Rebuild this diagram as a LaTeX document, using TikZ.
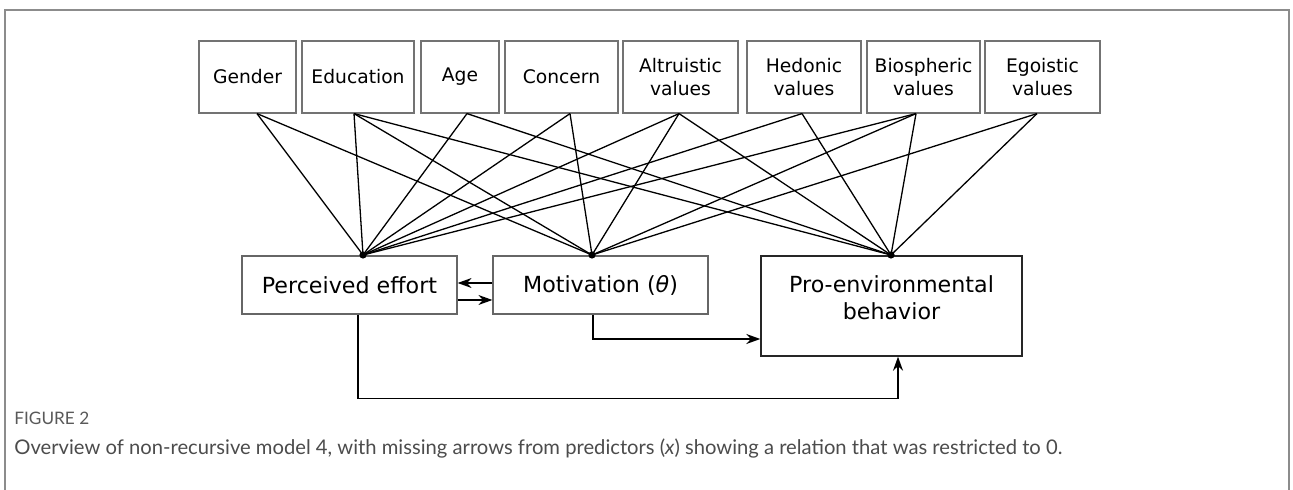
\documentclass[tikz,border=0pt]{standalone}
\usepackage{fontspec}
\setmainfont{DejaVu Sans}
\newfontfamily\capfont{Lato}
\usetikzlibrary{arrows.meta,calc}
\begin{document}
\begin{tikzpicture}[x=0.5pt,y=-0.5pt,
  topbox/.style={draw=black!55,line width=0.6pt,minimum height=36pt,inner sep=0pt,align=center,font=\fontsize{9.35pt}{11.5pt}\selectfont},
  botbox/.style={draw=black!60,line width=0.6pt,inner sep=0pt,align=center,font=\fontsize{11.1pt}{13.5pt}\selectfont},
  link/.style={line width=0.65pt},
  arr/.style={line width=0.7pt,-{Stealth[length=7pt,width=5pt]}},
  hub/.style={circle,fill=black,inner sep=0pt,minimum size=3.6pt}
]
\useasboundingbox (0,0) rectangle (1293,490);
\fill[white] (0,0) rectangle (1293,490);
\draw[black!45,line width=0.6pt] (5,490) -- (5,10) -- (1289,10) -- (1289,490);

% top predictor boxes
\node[topbox,minimum width=48.5pt] (gen) at (247.5,77) {Gender};
\node[topbox,minimum width=56pt]   (edu) at (358,77)   {Education};
\node[topbox,minimum width=39pt]   (age) at (460,77)   {Age};
\node[topbox,minimum width=56.5pt] (con) at (561.5,77) {Concern};
\node[topbox,minimum width=57.5pt] (alt) at (680.5,77) {Altruistic\\values};
\node[topbox,minimum width=57pt]   (hed) at (804,77)   {Hedonic\\values};
\node[topbox,minimum width=56.5pt] (bio) at (923.5,77) {Biospheric\\values};
\node[topbox,minimum width=57.5pt] (ego) at (1042.5,77) {Egoistic\\values};

% attachment points
\coordinate (gS)  at ($(gen.south)+(9.5,0)$);
\coordinate (eS)  at ($(edu.south)+(-4,0)$);
\coordinate (aS)  at ($(age.south)+(7,0)$);
\coordinate (cS)  at ($(con.south)+(8.5,0)$);
\coordinate (alS) at ($(alt.south)+(-1.5,0)$);
\coordinate (heS) at ($(hed.south)+(-2,0)$);
\coordinate (biS) at ($(bio.south)+(-7.5,0)$);
\coordinate (egS) at ($(ego.south)+(-5.5,0)$);

% bottom boxes
\node[botbox,minimum width=107.5pt,minimum height=29pt] (pe)  at (349.5,285) {Perceived effort};
\node[botbox,minimum width=107.5pt,minimum height=29pt] (mot) at (600.5,285) {Motivation (\textit{θ})};
\node[botbox,draw=black!85,line width=0.7pt,minimum width=130.5pt,minimum height=50pt] (pro) at (891.5,306) {};
\node[botbox,draw=none] (protext) at (891.5,298) {Pro-environmental\\behavior};

% hubs
\node[hub] (hPE)  at (363,255) {};
\node[hub] (hMot) at (592,255) {};
\node[hub] (hPro) at (891,255) {};

\foreach \a/\b in {gS/hPE,gS/hMot,
                   eS/hPE,eS/hMot,eS/hPro,
                   aS/hPE,aS/hPro,
                   cS/hPE,cS/hMot,
                   alS/hPE,alS/hMot,alS/hPro,
                   heS/hPE,heS/hPro,
                   biS/hPE,biS/hMot,biS/hPro,
                   egS/hMot,egS/hPro}
  \draw[link] (\a) -- (\b.center);

% paths between outcome boxes
\draw[arr] ($(mot.west)+(0,-2)$) -- ($(pe.east)+(0,-2)$);
\draw[arr] ($(pe.east)+(0,15)$) -- ($(mot.west)+(0,15)$);
\draw[arr] ($(mot.south)+(-7.5,0)$) |- ($(pro.west)+(0,33)$);
\draw[arr] ($(pe.south)+(8.5,0)$) -- ++(0,84) -| ($(pro.south)+(6.5,0)$);

% caption
\node[anchor=west,inner sep=0pt,font=\capfont\fontsize{8.6pt}{10pt}\selectfont,text=black!65] (fig) at (14,418) {FIGURE 2};
\node[anchor=west,inner sep=0pt,font=\capfont\fontsize{10.1pt}{12pt}\selectfont,text=black!70] (cap) at (14,449) {Overview of non-recursive model 4, with missing arrows from predictors (\textit{x}) showing a relation that was restricted to 0.};
\end{tikzpicture}
\end{document}
